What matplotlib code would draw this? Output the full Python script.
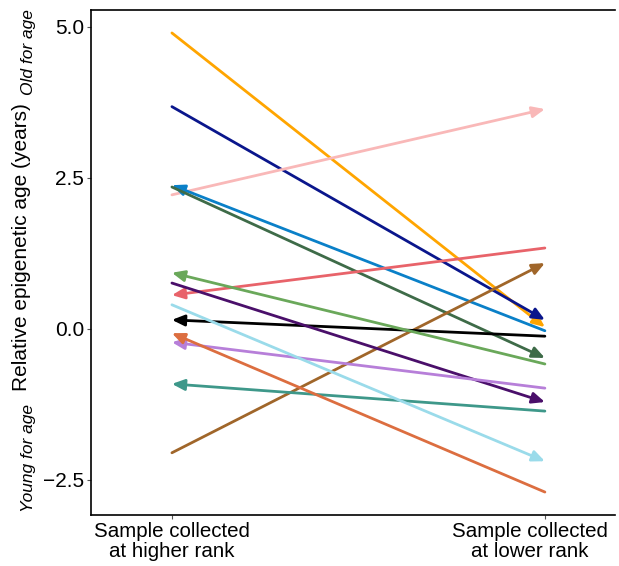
import matplotlib.pyplot as plt
from matplotlib.transforms import ScaledTranslation

plt.rcParams['font.family'] = ['Liberation Sans', 'DejaVu Sans']

# ---------- data ----------
higher_rank = [4.90, 3.68, 2.22, 2.38, 2.35, 0.56, -2.05, 0.15, 0.93, 0.76, -0.22, -0.91, 0.40, -0.07]
lower_rank = [0.03, 0.15, 3.64, -0.03, -0.48, 1.34, 1.09, -0.12, -0.58, -1.21, -0.98, -1.36, -2.19, -2.70]
# which end carries the arrow head
arrow_end = ['lower', 'lower', 'lower', 'higher', 'lower', 'higher', 'lower',
             'higher', 'higher', 'lower', 'higher', 'higher', 'lower', 'higher']
colors = ['#FFA500', '#0A168C', '#F9B8B8', '#0A80C8', '#3E6B48', '#E8636A', '#A0662A',
          '#000000', '#6AA85A', '#4A0F6A', '#B77FD9', '#3E988A', '#9ADBEA', '#DC6E40']
x_labels = ['Sample collected\nat higher rank', 'Sample collected\nat lower rank']
y_ticks = [-2.5, 0.0, 2.5, 5.0]

# ---------- plot ----------
fig = plt.figure(figsize=(6.19, 5.66), dpi=100)
ax = fig.add_axes([91 / 619, 51 / 566, 524 / 619, 505 / 566])

for y1, y2, end, c in zip(higher_rank, lower_rank, arrow_end, colors):
    if end == 'lower':
        start, stop = (1, y1), (2, y2)
    else:
        start, stop = (2, y2), (1, y1)
    ax.annotate('', xy=stop, xytext=start,
                arrowprops=dict(arrowstyle='-|>,head_length=0.75,head_width=0.33',
                                color=c, lw=2.0, shrinkA=0, shrinkB=0))

ax.set_xlim(0.783, 2.188)
ax.set_ylim(-3.08, 5.28)
ax.set_xticks([1, 2])
ax.set_xticklabels(x_labels, fontsize=14.8, linespacing=1.05)
ax.set_yticks(y_ticks)
ax.set_yticklabels([f'{v:.1f}'.replace('-', '\u2212') for v in y_ticks], fontsize=15)
ax.tick_params(length=3, width=0.8, color='#555555', pad=2)

# right label sits a little left of its tick so it stays inside the figure
lab = ax.get_xticklabels()[1]
lab.set_transform(lab.get_transform() + ScaledTranslation(-0.15, 0, fig.dpi_scale_trans))

ax.spines['right'].set_visible(False)
for s in ['left', 'bottom', 'top']:
    ax.spines[s].set_linewidth(1.2)

fig.text(22 / 619, 1 - 247 / 566, 'Relative epigenetic age (years)', rotation=90,
         ha='center', va='center', fontsize=15)
fig.text(29 / 619, 1 - 52 / 566, 'Old for age', rotation=90, style='italic',
         ha='center', va='center', fontsize=12.5)
fig.text(28 / 619, 1 - 458 / 566, 'Young for age', rotation=90, style='italic',
         ha='center', va='center', fontsize=12.5)

fig.savefig('out.png', dpi=100)
